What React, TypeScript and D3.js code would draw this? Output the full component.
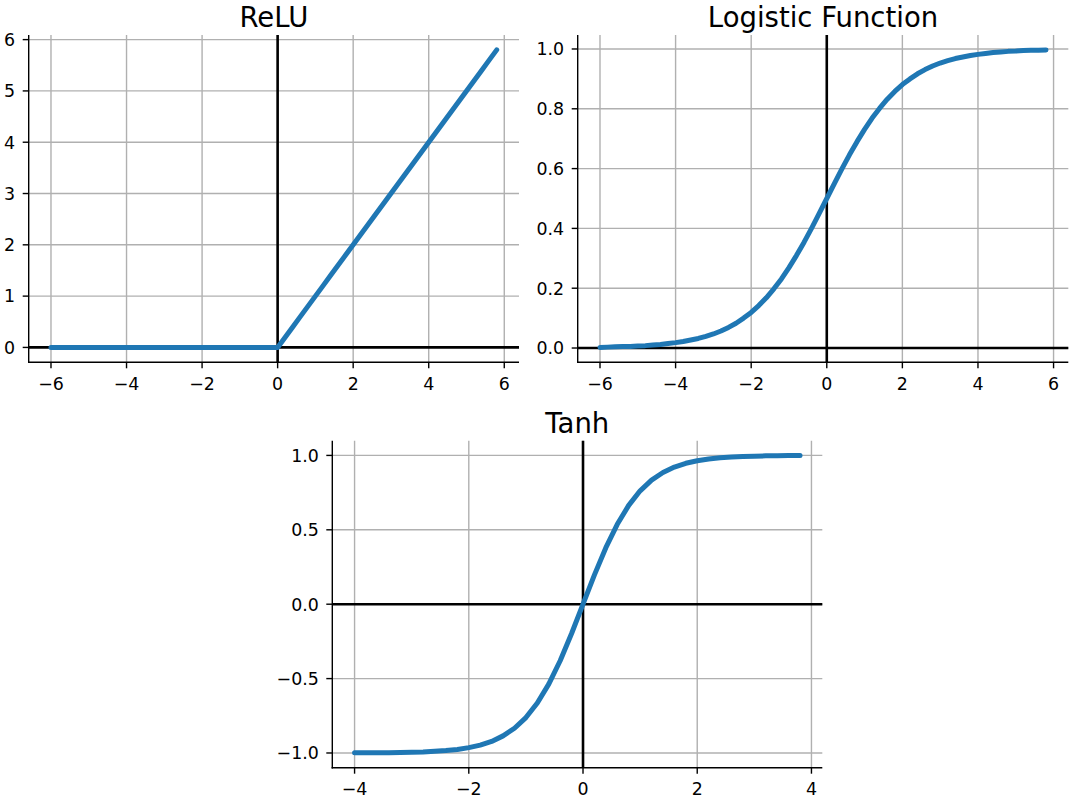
import React, {useRef, useEffect} from 'react';
import * as d3 from 'd3';

// x samples for the ReLU and logistic panels (step 0.2)
const wideX = [
    -6.0, -5.8, -5.6, -5.4, -5.2, -5.0, -4.8, -4.6, -4.4, -4.2,
    -4.0, -3.8, -3.6, -3.4, -3.2, -3.0, -2.8, -2.6, -2.4, -2.2,
    -2.0, -1.8, -1.6, -1.4, -1.2, -1.0, -0.8, -0.6, -0.4, -0.2,
    0.0, 0.2, 0.4, 0.6, 0.8, 1.0, 1.2, 1.4, 1.6, 1.8,
    2.0, 2.2, 2.4, 2.6, 2.8, 3.0, 3.2, 3.4, 3.6, 3.8,
    4.0, 4.2, 4.4, 4.6, 4.8, 5.0, 5.2, 5.4, 5.6, 5.8,
];

const reluY = [
    0, 0, 0, 0, 0, 0, 0, 0, 0, 0,
    0, 0, 0, 0, 0, 0, 0, 0, 0, 0,
    0, 0, 0, 0, 0, 0, 0, 0, 0, 0,
    0.0, 0.2, 0.4, 0.6, 0.8, 1.0, 1.2, 1.4, 1.6, 1.8,
    2.0, 2.2, 2.4, 2.6, 2.8, 3.0, 3.2, 3.4, 3.6, 3.8,
    4.0, 4.2, 4.4, 4.6, 4.8, 5.0, 5.2, 5.4, 5.6, 5.8,
];

const logisticY = [
    0.002, 0.003, 0.004, 0.005, 0.005, 0.007, 0.008, 0.010, 0.012, 0.015,
    0.018, 0.022, 0.027, 0.032, 0.039, 0.047, 0.057, 0.069, 0.083, 0.100,
    0.119, 0.142, 0.168, 0.198, 0.231, 0.269, 0.310, 0.354, 0.401, 0.450,
    0.500, 0.550, 0.599, 0.646, 0.690, 0.731, 0.769, 0.802, 0.832, 0.858,
    0.881, 0.900, 0.917, 0.931, 0.943, 0.953, 0.961, 0.968, 0.973, 0.978,
    0.982, 0.985, 0.988, 0.990, 0.992, 0.993, 0.995, 0.996, 0.996, 0.997,
];

const tanhX = [
    -4.0, -3.8, -3.6, -3.4, -3.2, -3.0, -2.8, -2.6, -2.4, -2.2,
    -2.0, -1.8, -1.6, -1.4, -1.2, -1.0, -0.8, -0.6, -0.4, -0.2,
    0.0, 0.2, 0.4, 0.6, 0.8, 1.0, 1.2, 1.4, 1.6, 1.8,
    2.0, 2.2, 2.4, 2.6, 2.8, 3.0, 3.2, 3.4, 3.6, 3.8,
];

const tanhY = [
    -0.999, -0.999, -0.999, -0.998, -0.997, -0.995, -0.993, -0.989, -0.984, -0.976,
    -0.964, -0.947, -0.922, -0.885, -0.834, -0.762, -0.664, -0.537, -0.380, -0.197,
    0.000, 0.197, 0.380, 0.537, 0.664, 0.762, 0.834, 0.885, 0.922, 0.947,
    0.964, 0.976, 0.984, 0.989, 0.993, 0.995, 0.997, 0.998, 0.999, 0.999,
];

const wideTicks = [-6, -4, -2, 0, 2, 4, 6];
const reluTicks = [0, 1, 2, 3, 4, 5, 6];
const logisticTicks = [0.0, 0.2, 0.4, 0.6, 0.8, 1.0];
const tanhXTicks = [-4, -2, 0, 2, 4];
const tanhYTicks = [-1.0, -0.5, 0.0, 0.5, 1.0];

interface Panel {
    title: string;
    xs: number[];
    ys: number[];
    left: number; top: number; width: number; height: number;
    xTicks: number[];
    yTicks: number[];
    yFmt: (n: number) => string;
}

const panels: Panel[] = [
    {title: 'ReLU', xs: wideX, ys: reluY, left: 28.7, top: 35, width: 490.3, height: 327.3,
        xTicks: wideTicks, yTicks: reluTicks, yFmt: d3.format('d')},
    {title: 'Logistic Function', xs: wideX, ys: logisticY, left: 577.7, top: 35, width: 490.6, height: 327.3,
        xTicks: wideTicks, yTicks: logisticTicks, yFmt: d3.format('.1f')},
    {title: 'Tanh', xs: tanhX, ys: tanhY, left: 332.3, top: 440.7, width: 490, height: 327,
        xTicks: tanhXTicks, yTicks: tanhYTicks, yFmt: d3.format('.1f')},
];

// matplotlib style 5% margins around the data
function padded(vals: number[]): [number, number] {
    const [lo, hi] = d3.extent(vals) as [number, number];
    const m = (hi - lo) * 0.05;
    return [lo - m, hi + m];
}

const App: React.FC = () => {
    const ref = useRef<SVGSVGElement | null>(null);

    useEffect(() => {
        if (!ref.current) return;
        document.body.style.margin = '0';
        const svg = d3.select(ref.current);
        const fmtX = d3.format('d');

        panels.forEach(p => {
            const x = d3.scaleLinear().domain(padded(p.xs)).range([p.left, p.left + p.width]);
            const y = d3.scaleLinear().domain(padded(p.ys)).range([p.top + p.height, p.top]);
            const g = svg.append('g').attr('font-family', '"DejaVu Sans", sans-serif');
            const bottom = p.top + p.height;
            const right = p.left + p.width;

            // grid
            g.selectAll('line.gx').data(p.xTicks).join('line')
                .attr('x1', d => x(d)).attr('x2', d => x(d))
                .attr('y1', p.top).attr('y2', bottom)
                .attr('stroke', '#b0b0b0').attr('stroke-width', 1.4);
            g.selectAll('line.gy').data(p.yTicks).join('line')
                .attr('y1', d => y(d)).attr('y2', d => y(d))
                .attr('x1', p.left).attr('x2', right)
                .attr('stroke', '#b0b0b0').attr('stroke-width', 1.4);

            // zero lines
            g.append('line').attr('x1', p.left).attr('x2', right)
                .attr('y1', y(0)).attr('y2', y(0))
                .attr('stroke', '#000').attr('stroke-width', 2.6);
            g.append('line').attr('x1', x(0)).attr('x2', x(0))
                .attr('y1', p.top).attr('y2', bottom)
                .attr('stroke', '#000').attr('stroke-width', 2.6);

            // spines
            g.append('line').attr('x1', p.left).attr('x2', p.left)
                .attr('y1', p.top).attr('y2', bottom + 0.7)
                .attr('stroke', '#000').attr('stroke-width', 1.4);
            g.append('line').attr('x1', p.left - 0.7).attr('x2', right)
                .attr('y1', bottom).attr('y2', bottom)
                .attr('stroke', '#000').attr('stroke-width', 1.4);

            // x ticks
            const xt = g.selectAll('g.xt').data(p.xTicks).join('g')
                .attr('transform', d => `translate(${x(d)},${bottom})`);
            xt.append('line').attr('y1', 0).attr('y2', 6).attr('stroke', '#000').attr('stroke-width', 1.4);
            xt.append('text').attr('y', 27.5).attr('text-anchor', 'middle')
                .attr('font-size', '17.4px').attr('fill', '#000')
                .text(d => fmtX(d));

            // y ticks
            const yt = g.selectAll('g.yt').data(p.yTicks).join('g')
                .attr('transform', d => `translate(${p.left},${y(d)})`);
            yt.append('line').attr('x1', 0).attr('x2', -6).attr('stroke', '#000').attr('stroke-width', 1.4);
            yt.append('text').attr('x', -13.5).attr('y', 6.3).attr('text-anchor', 'end')
                .attr('font-size', '17.4px').attr('fill', '#000')
                .text(d => p.yFmt(d));

            // curve
            const line = d3.line<number>().x((d, i) => x(p.xs[i])).y(d => y(d));
            g.append('path').attr('d', line(p.ys))
                .attr('fill', 'none').attr('stroke', '#1f77b4').attr('stroke-width', 5)
                .attr('stroke-linecap', 'round').attr('stroke-linejoin', 'round');

            // title
            g.append('text').attr('x', p.left + p.width / 2).attr('y', p.top - 8)
                .attr('text-anchor', 'middle').attr('font-size', '27.5px').attr('fill', '#000')
                .text(p.title);
        });

        return () => {
            // eslint-disable-next-line react-hooks/exhaustive-deps
            d3.select(ref.current).selectAll('*').remove();
        };
    }, []);

    return <svg ref={ref} width={1071} height={799} style={{display: 'block', background: '#fff'}}></svg>;
};

export default App;
